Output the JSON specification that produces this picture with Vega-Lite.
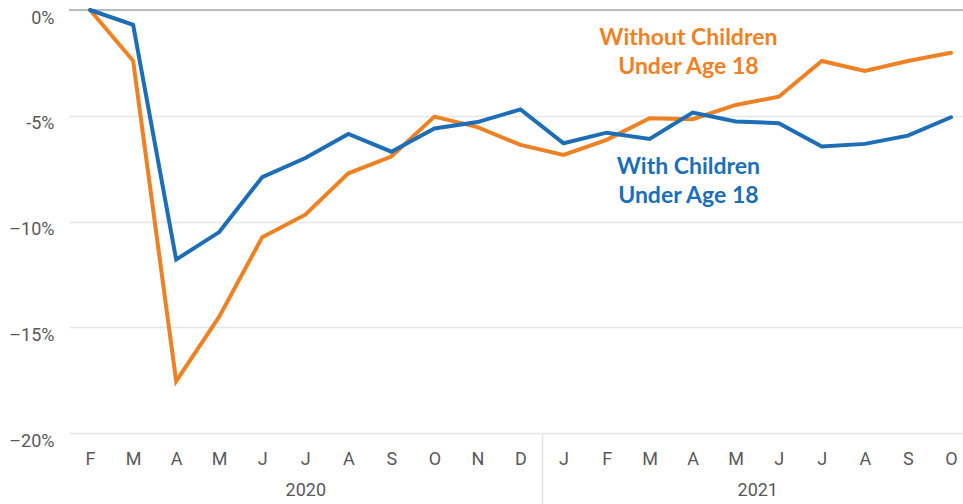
{
  "$schema": "https://vega.github.io/schema/vega-lite/v6.json",
  "autosize": "none",
  "width": 894,
  "height": 423,
  "padding": {"left": 69, "top": 10, "right": 0, "bottom": 71},
  "background": "white",
  "config": {"view": {"stroke": null}, "font": "Roboto"},
  "datasets": {
    "series": [
      {"m": 0, "month": "Feb 2020", "With Children": 0, "Without Children": 0},
      {"m": 1, "month": "Mar 2020", "With Children": -0.7, "Without Children": -2.4},
      {"m": 2, "month": "Apr 2020", "With Children": -11.8, "Without Children": -17.55},
      {"m": 3, "month": "May 2020", "With Children": -10.5, "Without Children": -14.5},
      {"m": 4, "month": "Jun 2020", "With Children": -7.9, "Without Children": -10.74},
      {"m": 5, "month": "Jul 2020", "With Children": -7.0, "Without Children": -9.68},
      {"m": 6, "month": "Aug 2020", "With Children": -5.86, "Without Children": -7.72},
      {"m": 7, "month": "Sep 2020", "With Children": -6.7, "Without Children": -6.93},
      {"m": 8, "month": "Oct 2020", "With Children": -5.6, "Without Children": -5.04},
      {"m": 9, "month": "Nov 2020", "With Children": -5.3, "Without Children": -5.54},
      {"m": 10, "month": "Dec 2020", "With Children": -4.7, "Without Children": -6.38},
      {"m": 11, "month": "Jan 2021", "With Children": -6.3, "Without Children": -6.85},
      {"m": 12, "month": "Feb 2021", "With Children": -5.8, "Without Children": -6.14},
      {"m": 13, "month": "Mar 2021", "With Children": -6.1, "Without Children": -5.12},
      {"m": 14, "month": "Apr 2021", "With Children": -4.85, "Without Children": -5.16},
      {"m": 15, "month": "May 2021", "With Children": -5.27, "Without Children": -4.49},
      {"m": 16, "month": "Jun 2021", "With Children": -5.35, "Without Children": -4.1},
      {"m": 17, "month": "Jul 2021", "With Children": -6.45, "Without Children": -2.41},
      {"m": 18, "month": "Aug 2021", "With Children": -6.33, "Without Children": -2.88},
      {"m": 19, "month": "Sep 2021", "With Children": -5.94, "Without Children": -2.41},
      {"m": 20, "month": "Oct 2021", "With Children": -5.07, "Without Children": -2.02}
    ],
    "labels": [
      {"series": "Without Children", "text": "Without Children", "m": 13.9, "value": -1.32},
      {"series": "Without Children", "text": "Under Age 18", "m": 13.9, "value": -2.7},
      {"series": "With Children", "text": "With Children", "m": 13.9, "value": -7.42},
      {"series": "With Children", "text": "Under Age 18", "m": 13.9, "value": -8.8}
    ],
    "years": [
      {"year": "2020", "m": 5},
      {"year": "2021", "m": 15.5}
    ]
  },
  "resolve": {"axis": {"x": "independent"}},
  "layer": [
    {
      "data": {"name": "series"},
      "transform": [{"fold": ["Without Children"], "as": ["series", "value"]}],
      "mark": {"type": "line", "strokeWidth": 4, "strokeJoin": "miter", "strokeCap": "round", "color": "#EE8124"},
      "encoding": {
        "x": {
          "field": "m", "type": "quantitative",
          "scale": {"domain": [-0.49, 20.28], "nice": false, "zero": false},
          "axis": {
            "orient": "bottom",
            "values": [0,1,2,3,4,5,6,7,8,9,10,10.5,11,12,13,14,15,16,17,18,19,20],
            "labelExpr": "datum.value == 10.5 ? '' : split('F,M,A,M,J,J,A,S,O,N,D,J,F,M,A,M,J,J,A,S,O', ',')[datum.value]",
            "title": null, "grid": false, "domain": false,
            "ticks": true, "tickSize": 71, "tickWidth": 1.5,
            "tickColor": {"condition": {"test": "datum.value == 10.5", "value": "#e3e3e3"}, "value": "transparent"},
            "labelPadding": -54, "labelFontSize": 18, "labelColor": "#595959", "labelFont": "Roboto", "labelFlush": false
          }
        },
        "y": {
          "field": "value", "type": "quantitative",
          "scale": {"domain": [-20, 0], "nice": false},
          "axis": {
            "values": [0, -5, -10, -15, -20],
            "labelExpr": "datum.value == 0 ? '0%' : datum.value == -5 ? '-5%' : '–' + abs(datum.value) + '%'",
            "title": null, "domain": false, "ticks": false,
            "grid": true, "gridColor": "#e6e6e6", "gridWidth": 1.5,
            "labelPadding": 15, "labelFontSize": 18, "labelColor": "#595959", "labelFont": "Roboto",
            "labelBaseline": "middle", "labelOffset": 8
          }
        },
        "order": {"field": "m", "type": "quantitative"}
      }
    },
    {
      "data": {"values": [{"value": 0}]},
      "mark": {"type": "rule", "color": "#a8a8a8", "strokeWidth": 1.5},
      "encoding": {"y": {"field": "value", "type": "quantitative"}}
    },
    {
      "data": {"name": "series"},
      "transform": [{"fold": ["With Children"], "as": ["series", "value"]}],
      "mark": {"type": "line", "strokeWidth": 4, "strokeJoin": "miter", "strokeCap": "round", "color": "#1D6EB7"},
      "encoding": {
        "x": {"field": "m", "type": "quantitative", "axis": null},
        "y": {"field": "value", "type": "quantitative"},
        "order": {"field": "m", "type": "quantitative"}
      }
    },
    {
      "data": {"name": "labels"},
      "mark": {"type": "text", "font": "Lato", "fontSize": 23, "fontWeight": "bold", "align": "center", "baseline": "middle"},
      "encoding": {
        "x": {"field": "m", "type": "quantitative", "axis": null},
        "y": {"field": "value", "type": "quantitative"},
        "text": {"field": "text"},
        "color": {
          "field": "series", "type": "nominal",
          "scale": {"domain": ["Without Children", "With Children"], "range": ["#EE8124", "#1D6EB7"]},
          "legend": null
        }
      }
    },
    {
      "data": {"name": "years"},
      "mark": {"type": "text", "opacity": 0},
      "encoding": {
        "x": {
          "field": "m", "type": "quantitative",
          "axis": {
            "orient": "bottom", "values": [5, 15.5],
            "labelExpr": "datum.value < 10 ? '2020' : '2021'",
            "title": null, "grid": false, "domain": false, "ticks": false,
            "labelPadding": 48, "labelFontSize": 18, "labelColor": "#595959", "labelFont": "Roboto"
          }
        },
        "y": {"datum": -20, "type": "quantitative"},
        "text": {"field": "year"}
      }
    }
  ]
}
